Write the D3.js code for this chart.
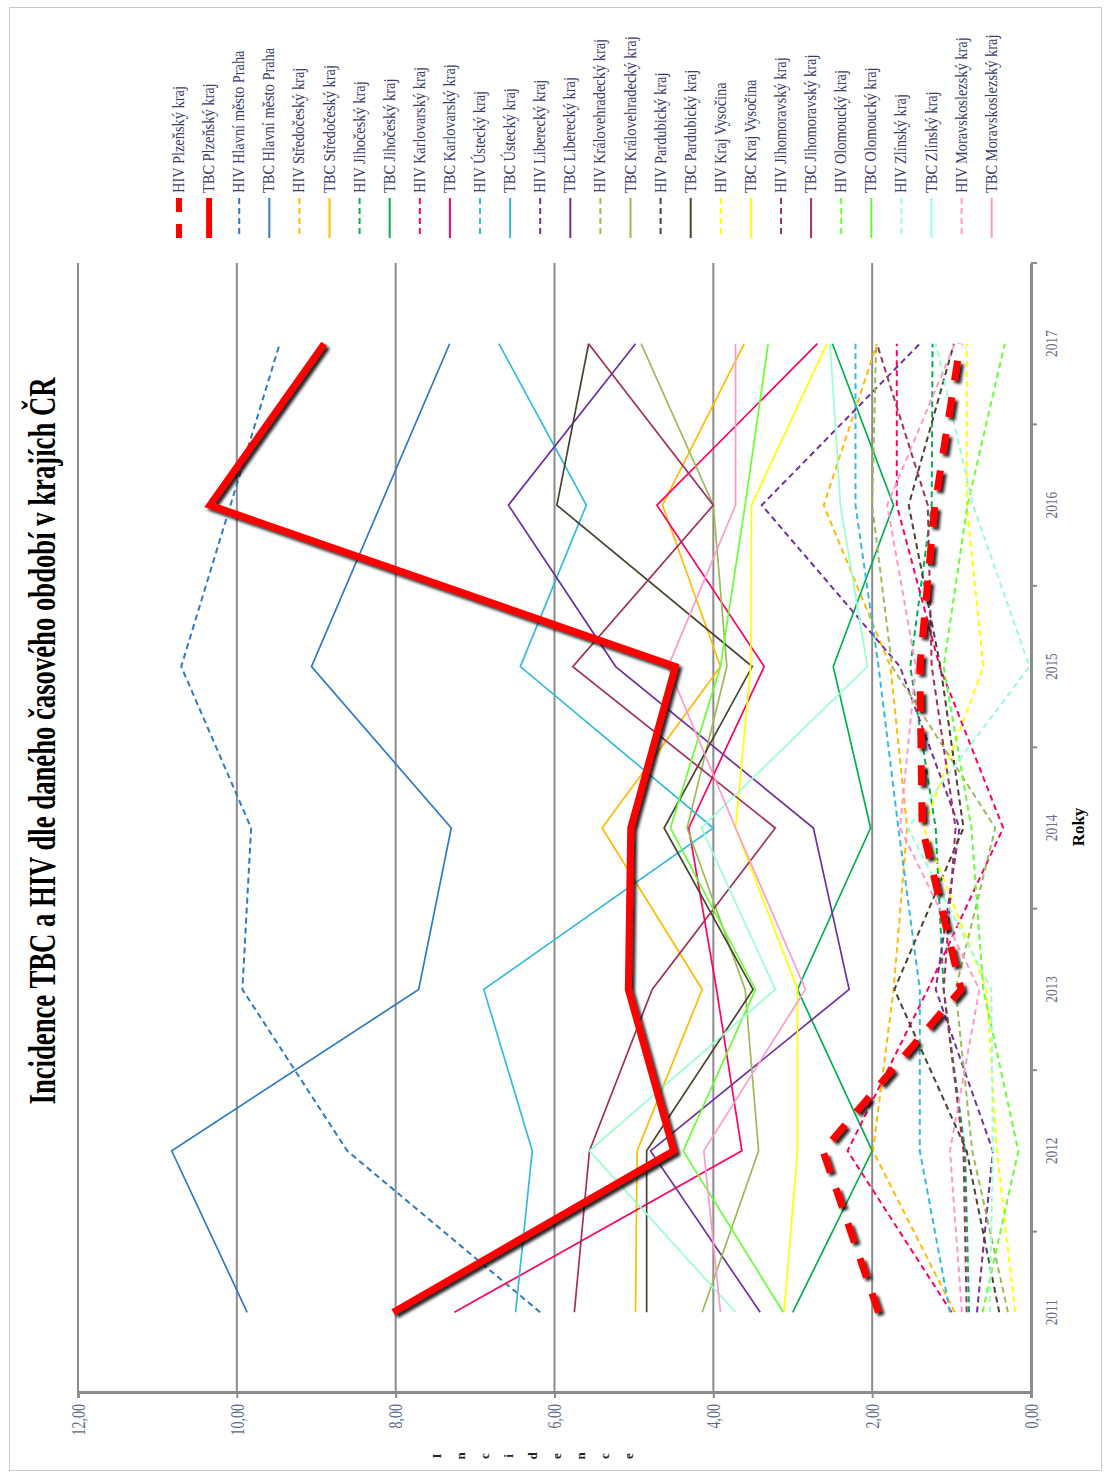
<!DOCTYPE html>
<html><head><meta charset="utf-8">
<script src="https://cdn.jsdelivr.net/npm/d3@7"></script>
<style>body{margin:0;background:#fff} svg{display:block}</style>
</head><body>
<svg id="c" width="1110" height="1479"></svg>
<script>
// ---------- DATA ----------
const years = ["2011","2012","2013","2014","2015","2016","2017"];
const valueTicks = [0,2,4,6,8,10,12];
const titleText = "Incidence TBC a HIV dle daného časového období v krajích ČR";
const valueAxisTitle = "Incidence";
const yearAxisTitle = "Roky";

const seriesNames = [
 "HIV Plzeňský kraj","TBC Plzeňský kraj",
 "HIV Hlavní město Praha","TBC Hlavní město Praha",
 "HIV Středočeský kraj","TBC Středočeský kraj",
 "HIV Jihočeský kraj","TBC Jihočeský kraj",
 "HIV Karlovarský kraj","TBC Karlovarský kraj",
 "HIV Ústecký kraj","TBC Ústecký kraj",
 "HIV Liberecký kraj","TBC Liberecký kraj",
 "HIV Královehradecký kraj","TBC Královehradecký kraj",
 "HIV Pardubický kraj","TBC Pardubický kraj",
 "HIV Kraj Vysočina","TBC Kraj Vysočina",
 "HIV Jihomoravský kraj","TBC Jihomoravský kraj",
 "HIV Olomoucký kraj","TBC Olomoucký kraj",
 "HIV Zlínský kraj","TBC Zlínský kraj",
 "HIV Moravskoslezský kraj","TBC Moravskoslezský kraj"
];
const regionColors = ["#ff0000","#2e7bc4","#ffbb00","#00b050","#ff0066","#33bbdd","#7030a0",
 "#9bbb59","#4a4330","#ffff00","#a0305a","#66ff33","#99ffcc","#ff99cc"];

const hivPlzen  = [1.92, 2.62, 0.88, 1.37, 1.40, 1.21, 0.89];
const tbcPlzen  = [8.03, 4.50, 5.07, 5.04, 4.48, 10.34, 8.90];
const hivPraha  = [6.18, 8.61, 9.93, 9.82, 10.70, 10.08, 9.46];
const tbcPraha  = [9.87, 10.82, 7.71, 7.30, 9.06, 8.19, 7.32];
const hivStredo = [0.96, 1.99, 1.73, 1.56, 1.77, 2.61, 1.94];
const tbcStredo = [4.98, 4.96, 4.14, 5.40, 3.91, 4.64, 3.61];
const hivJiho   = [0.78, 0.83, 1.10, 1.20, 1.52, 1.25, 1.24];
const tbcJiho   = [3.00, 2.00, 2.94, 2.02, 2.49, 1.73, 2.50];
const hivKarlo  = [1.00, 2.31, 1.30, 0.35, 1.15, 1.69, 1.69];
const tbcKarlo  = [7.26, 3.64, 3.96, 4.31, 3.36, 4.71, 2.69];
const hivUsti   = [1.02, 1.40, 1.40, 1.67, 1.92, 2.21, 2.21];
const tbcUsti   = [6.49, 6.28, 6.89, 4.00, 6.43, 5.60, 6.70];
const hivLiber  = [0.68, 0.48, 1.20, 0.90, 1.65, 3.39, 1.40];
const tbcLiber  = [3.41, 4.79, 2.29, 2.74, 5.23, 6.58, 4.98];
const hivHK     = [0.29, 0.74, 0.95, 0.45, 1.75, 2.00, 1.95];
const tbcHK     = [4.14, 3.43, 3.60, 4.33, 3.83, 4.00, 4.91];
const hivPard   = [0.40, 0.81, 1.72, 0.85, 1.14, 1.54, 0.97];
const tbcPard   = [4.84, 4.84, 3.50, 4.62, 3.51, 5.97, 5.57];
const hivVys    = [0.20, 0.43, 0.56, 1.35, 0.60, 0.81, 0.81];
const tbcVys    = [3.11, 2.94, 2.94, 3.72, 3.53, 3.52, 2.57];
const hivJM     = [0.81, 0.85, 1.10, 0.95, 1.25, 1.30, 1.94];
const tbcJM     = [5.75, 5.56, 4.77, 3.22, 5.77, 4.00, 5.57];
const hivOl     = [0.61, 0.16, 0.60, 0.75, 1.10, 0.80, 0.33];
const tbcOl     = [3.12, 4.38, 3.47, 4.54, 3.91, 3.60, 3.31];
const hivZl     = [0.52, 0.48, 0.50, 1.55, 0.02, 0.73, 1.20];
const tbcZl     = [3.72, 5.56, 3.22, 4.15, 2.06, 2.40, 2.53];
const hivMS     = [0.87, 1.02, 0.65, 1.65, 1.45, 1.81, 0.96];
const tbcMS     = [3.91, 4.12, 2.84, 3.72, 4.57, 3.72, 3.72];

const seriesValues = [hivPlzen,tbcPlzen,hivPraha,tbcPraha,hivStredo,tbcStredo,hivJiho,tbcJiho,
 hivKarlo,tbcKarlo,hivUsti,tbcUsti,hivLiber,tbcLiber,hivHK,tbcHK,hivPard,tbcPard,
 hivVys,tbcVys,hivJM,tbcJM,hivOl,tbcOl,hivZl,tbcZl,hivMS,tbcMS];

const series = seriesNames.map((n,i)=>({
  name:n, hiv:n.startsWith("HIV"), color:regionColors[Math.floor(i/2)],
  bold: i<2, values: seriesValues[i].map((v,j)=>({year:years[j], v}))
}));

// ---------- CHART ----------
const svg = d3.select("#c");
const serif = "'Liberation Serif','Times New Roman',serif";
const L = 78, R = 1031, T = 263, B = 1393;
const x = d3.scaleLinear().domain([0,12]).range([R, L]);
const yBand = d3.scaleBand().domain(years).range([B, T]);
const y = d => yBand(d) + yBand.bandwidth()/2;

function squeeze(sel, f){
  sel.each(function(){ const w=this.getComputedTextLength();
    d3.select(this).attr("textLength", w*f).attr("lengthAdjust","spacingAndGlyphs"); });
}

const defs = svg.append("defs");
const f = defs.append("filter").attr("id","sh").attr("x","-20%").attr("y","-20%").attr("width","140%").attr("height","140%");
f.append("feDropShadow").attr("dx",3).attr("dy",3).attr("stdDeviation",1.6)
 .attr("flood-color","#000").attr("flood-opacity",0.85);

// outer frame
svg.append("rect").attr("x",9.5).attr("y",7.5).attr("width",1092).attr("height",1463)
  .attr("fill","none").attr("stroke","#c8c8c8").attr("stroke-width",1);

// gridlines
svg.append("g").selectAll("line").data(valueTicks.filter(d=>d>0)).join("line")
  .attr("x1",d=>x(d)).attr("x2",d=>x(d)).attr("y1",T).attr("y2",B-1)
  .attr("stroke","#8c8c8c").attr("stroke-width",2);

// value axis (bottom)
const gx = svg.append("g").attr("transform",`translate(0,${B-1})`)
  .call(d3.axisBottom(x).tickValues(valueTicks).tickSize(6)
    .tickFormat(d=>d3.format(".2f")(d).replace(".",",")));
gx.select(".domain").attr("stroke","#8c8c8c").attr("stroke-width",3);
gx.selectAll(".tick line").attr("stroke","#8c8c8c").attr("stroke-width",2);
gx.selectAll(".tick text").attr("font-family",serif).attr("font-size",18).attr("fill","#5a6a8a")
  .attr("text-anchor","end").attr("transform","rotate(-90)").attr("x",-12).attr("y",0).attr("dy","0.35em");
squeeze(gx.selectAll(".tick text"),0.78);

// year axis (right)
const gy = svg.append("g").attr("transform",`translate(${R},0)`)
  .call(d3.axisRight(yBand).tickSize(0).tickPadding(0));
gy.select(".domain").attr("stroke","#8c8c8c").attr("stroke-width",3);
gy.selectAll(".tick text").attr("font-family",serif).attr("font-size",17).attr("fill","#6a6a8a")
  .attr("text-anchor","middle").attr("transform","rotate(-90)").attr("x",0).attr("y",20).attr("dy","0.35em");
squeeze(gy.selectAll(".tick text"),0.78);
const bounds = years.map(d=>yBand(d)).concat([T]);
gy.append("g").selectAll("line").data(bounds).join("line")
  .attr("x1",0).attr("x2",6).attr("y1",d=>d).attr("y2",d=>d)
  .attr("stroke","#8c8c8c").attr("stroke-width",2);

// lines
const line = d3.line().x(d=>x(d.v)).y(d=>y(d.year));
const ordered = series.slice(2).concat([series[0],series[1]]);
svg.append("g").selectAll("path").data(ordered).join("path")
  .attr("d",d=>line(d.values)).attr("fill","none")
  .attr("stroke",d=>d.color)
  .attr("stroke-width",d=>d.bold?7:(d.hiv?2:1.7))
  .attr("stroke-dasharray",d=>d.hiv?(d.bold?"20,17":"6,4"):null)
  .attr("stroke-linejoin","miter")
  .attr("filter",d=>d.bold?"url(#sh)":null);

// legend
const lx = i => 179 + i*30.1;
const lg = svg.append("g");
lg.selectAll("line").data(series).join("line")
  .attr("x1",(d,i)=>lx(i)).attr("x2",(d,i)=>lx(i)).attr("y1",198).attr("y2",238)
  .attr("stroke",d=>d.color).attr("stroke-width",d=>d.bold?6:2)
  .attr("stroke-dasharray",d=>d.hiv?(d.bold?"14,12":"6,4"):null);
const lt = lg.selectAll("text").data(series).join("text")
  .attr("transform",(d,i)=>`translate(${lx(i)+5},193) rotate(-90)`)
  .attr("font-family",serif).attr("font-size",16).attr("fill","#3b3b6b")
  .text(d=>d.name);
squeeze(lt,0.9);

// title
const tt = svg.append("text").attr("transform",`translate(55,741) rotate(-90)`)
  .attr("text-anchor","middle").attr("font-family",serif).attr("font-weight","bold")
  .attr("font-size",37).attr("fill","#000").text(titleText);
tt.attr("textLength",727).attr("lengthAdjust","spacingAndGlyphs");

// year axis title
svg.append("text").attr("transform",`translate(1084,827) rotate(-90)`)
  .attr("text-anchor","middle").attr("font-family",serif).attr("font-weight","bold")
  .attr("font-size",17).attr("fill","#000").text(yearAxisTitle);

// value axis title (stacked letters)
svg.append("g").selectAll("text").data(valueAxisTitle.split("")).join("text")
  .attr("transform",(d,i)=>`translate(${436+i*24},1456) rotate(-90)`)
  .attr("text-anchor","middle").attr("dy","0.35em").attr("font-family",serif).attr("font-weight","bold")
  .attr("font-size",13).attr("fill","#222").text(d=>d);
</script>
</body></html>
